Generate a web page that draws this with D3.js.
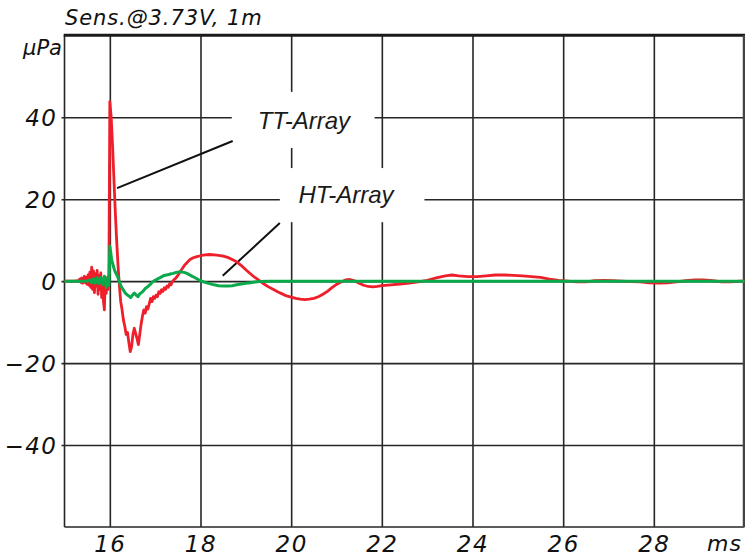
<!DOCTYPE html>
<html>
<head>
<meta charset="utf-8">
<script src="https://cdn.jsdelivr.net/npm/d3@7"></script>
<style>
  html, body { margin: 0; padding: 0; background: #fff; }
  svg { display: block; }
</style>
</head>
<body>
<svg id="chart" width="745" height="558"></svg>
<script>
// ---- data ----
const xTicks = [16, 18, 20, 22, 24, 26, 28];
const yTicks = [-40, -20, 0, 20, 40];

const ttTimes = [15.00,15.20,15.30,15.34,15.36,15.38,15.40,15.42,15.44,15.46,15.48,15.50,15.52,15.54,15.56,15.58,15.60,15.62,15.64,15.66,15.68,15.70,15.72,15.74,15.76,15.78,15.80,15.82,15.84,15.86,15.88,15.90,15.92,15.94,15.96,15.98,
  16.00,16.03,16.06,16.09,16.12,16.15,16.18,16.21,16.24,16.27,16.30,16.33,16.36,16.39,16.42,16.45,16.48,16.51,16.54,16.57,16.60,16.63,16.66,16.69,16.72,16.75,16.78,16.81,16.84,16.87,16.90,16.93,16.96,16.99,17.02,17.05,17.08,17.11,17.14,17.17,17.20,17.23,17.26,17.29,17.32,17.35,17.38,17.42,17.46,17.50,17.55,17.60,17.65,17.70,17.76,17.84,17.92,
  18.00,18.10,18.20,18.30,18.40,18.50,18.60,18.70,18.80,18.90,19.00,19.10,19.20,19.30,19.40,19.50,19.60,19.70,19.80,19.90,20.00,20.10,20.20,20.30,20.40,20.50,20.60,20.70,20.80,20.90,21.00,21.10,21.20,21.30,21.40,21.50,21.60,21.70,21.80,21.90,22.00,22.20,22.40,22.60,22.80,23.00,23.20,23.40,23.55,23.70,23.90,24.10,24.30,24.50,24.70,24.90,25.10,25.30,25.50,25.70,25.90,26.10,26.30,26.50,26.70,26.90,27.10,27.30,27.50,27.70,27.90,28.10,28.30,28.50,28.70,28.90,29.10,29.30,29.50,29.70,29.90,30.00];
const ttValues = [0,0,0.1,0.5,-0.3,0.8,-0.5,0.6,1.2,-0.4,0.9,-0.8,1.5,-1.0,2.2,-1.5,3.4,-2.0,2.5,-2.8,1.8,-1.2,2.6,-3.2,1.4,-2.0,2.0,-4.0,0.5,-5.0,-7.0,1.0,-3.0,0.5,-2.0,2.0,
  43.8,40,33,25,17,10,4,-1,-5,-7,-9.5,-11,-13,-12.5,-15,-17.2,-16,-13,-11.5,-12.8,-14,-15.5,-13,-10.5,-8.5,-7,-7.8,-6.2,-6.8,-5.5,-4.2,-5.0,-3.8,-4.2,-3.4,-3.8,-2.6,-3.0,-2.1,-2.5,-1.6,-2.0,-1.2,-1.5,-0.6,-0.9,-0.1,0.4,0.8,1.4,2.3,3.1,3.9,4.5,5.2,5.7,6.0,
  6.2,6.4,6.5,6.4,6.3,6.1,5.8,5.3,4.7,3.8,2.8,1.8,0.9,0.1,-0.7,-1.4,-2.0,-2.6,-3.1,-3.6,-3.9,-4.2,-4.4,-4.5,-4.4,-4.2,-3.8,-3.2,-2.5,-1.6,-0.8,-0.2,0.3,0.4,0.1,-0.5,-1.0,-1.3,-1.4,-1.3,-1.1,-0.9,-0.7,-0.5,-0.2,0.2,0.8,1.3,1.5,1.3,1.1,1.1,1.3,1.5,1.5,1.4,1.3,1.1,0.9,0.5,0.2,0.0,-0.2,-0.2,0.1,0.2,0.1,0.0,-0.1,-0.2,-0.4,-0.5,-0.4,-0.2,0.1,0.3,0.3,0.1,-0.2,-0.2,0.0,0.0];

const htTimes = [15.00,15.50,15.56,15.60,15.64,15.68,15.72,15.76,15.80,15.84,15.88,15.92,15.96,15.98,
  16.00,16.02,16.04,16.07,16.10,16.14,16.18,16.22,16.26,16.30,16.34,16.38,16.42,16.46,16.50,16.54,16.58,16.62,16.66,16.70,16.74,16.78,16.82,16.86,16.90,16.94,16.98,17.02,17.06,17.10,17.15,17.20,17.25,17.30,17.35,17.40,17.45,17.50,17.55,17.60,17.65,17.70,17.75,17.80,17.85,17.90,17.95,
  18.00,18.10,18.20,18.30,18.40,18.50,18.60,18.70,18.80,18.90,19.00,19.10,19.20,19.30,19.50,20.00,22.00,24.00,26.00,28.00,30.00];
const htValues = [0,0,0.3,-0.4,0.6,-0.5,0.8,-0.6,0.9,-0.8,1.2,-1.5,1.0,-1.0,
  8.5,7.0,5.2,4.0,2.8,1.8,0.9,-0.5,-1.5,-2.2,-2.9,-3.3,-3.6,-4.0,-3.4,-2.9,-3.4,-3.8,-3.1,-2.8,-2.4,-1.8,-1.5,-1.1,-0.7,-0.2,0.1,0.3,0.6,0.8,1.1,1.4,1.5,1.6,1.8,1.9,2.1,2.2,2.3,2.2,2.1,1.9,1.6,1.3,1.0,0.7,0.4,
  0.1,-0.3,-0.6,-0.9,-1.1,-1.2,-1.2,-1.1,-0.9,-0.7,-0.5,-0.4,-0.2,-0.1,0.0,0.0,0.0,0.0,0.0,0.0,0.0];

// annotation label boxes / leader lines in data units
const labelNames = ["TT-Array", "HT-Array"];
const labelAnchor = [[20.28, 37.1], [21.21, 19.1]];
const labelBox = [[18.69, 21.84, 46.2, 32.5], [19.75, 22.94, 27.6, 14.4]];
const leaderLines = [[16.16, 22.7, 18.71, 34.2], [18.49, 1.3, 19.75, 14.2]];

// ---- drawing ----
const svg = d3.select("#chart");
const x = d3.scaleLinear().domain([15, 30]).range([64.5, 744.5]);
const y = d3.scaleLinear().domain([-60, 60]).range([527, 35.3]);
const axisFont = "'DejaVu Sans', sans-serif";
const gridColor = "#262626";

// x axis + vertical grid
const gx = svg.append("g").attr("transform", "translate(0,527)")
  .call(d3.axisBottom(x).tickValues(xTicks).tickSize(-(527 - 35.3)).tickPadding(9).tickFormat(d3.format("d")));
gx.select(".domain").remove();
gx.selectAll(".tick line").attr("stroke", gridColor).attr("stroke-width", 1.6);
gx.selectAll(".tick text").attr("font-family", axisFont).attr("font-style", "italic")
  .attr("font-size", 23).attr("letter-spacing", 1.5).attr("fill", "#111");

// y axis + horizontal grid
const gy = svg.append("g").attr("transform", "translate(64.5,0)")
  .call(d3.axisLeft(y).tickValues(yTicks).tickSize(-(744.5 - 64.5)).tickPadding(7)
    .tickFormat(d => d < 0 ? "\u2212" + Math.abs(d) : String(d)));
gy.select(".domain").remove();
gy.selectAll(".tick line").attr("x1", -3).attr("stroke", gridColor).attr("stroke-width", 1.6);
gy.selectAll(".tick text").attr("font-family", axisFont).attr("font-style", "italic")
  .attr("font-size", 23).attr("letter-spacing", 1.5).attr("fill", "#111").attr("dy", "0.36em");

// frame
svg.append("line").attr("x1", x(15)).attr("x2", x(15)).attr("y1", y(60)).attr("y2", y(-60))
  .attr("stroke", gridColor).attr("stroke-width", 1.6);
svg.append("line").attr("x1", x(15)).attr("x2", x(30)).attr("y1", y(-60)).attr("y2", y(-60))
  .attr("stroke", gridColor).attr("stroke-width", 1.6);
svg.append("line").attr("x1", x(15) - 0.8).attr("x2", x(30) + 1).attr("y1", y(60)).attr("y2", y(60))
  .attr("stroke", "#1a1a1a").attr("stroke-width", 3);
svg.append("line").attr("x1", x(30) - 0.5).attr("x2", x(30) - 0.5).attr("y1", y(60)).attr("y2", y(-60))
  .attr("stroke", "#444").attr("stroke-width", 2.5);

// label boxes (mask grid)
labelBox.forEach(b => {
  svg.append("rect").attr("x", x(b[0])).attr("y", y(b[2]))
    .attr("width", x(b[1]) - x(b[0])).attr("height", y(b[3]) - y(b[2])).attr("fill", "#fff");
});
labelNames.forEach((n, i) => {
  svg.append("text").attr("x", x(labelAnchor[i][0])).attr("y", y(labelAnchor[i][1]))
    .attr("text-anchor", "middle").attr("font-family", "'Liberation Sans', Arial, sans-serif")
    .attr("font-style", "italic").attr("font-size", 24).attr("fill", "#1a1a1a").text(n);
});
leaderLines.forEach(l => {
  svg.append("line").attr("x1", x(l[0])).attr("y1", y(l[1])).attr("x2", x(l[2])).attr("y2", y(l[3]))
    .attr("stroke", "#111").attr("stroke-width", 2);
});

// data lines
const line = d3.line().x(d => x(d[0])).y(d => y(d[1]));
svg.append("path").datum(ttTimes.map((t, i) => [t, ttValues[i]]))
  .attr("d", line).attr("fill", "none").attr("stroke", "#ee1f2b").attr("stroke-width", 2.8)
  .attr("stroke-linejoin", "round");
svg.append("path").datum(htTimes.map((t, i) => [t, htValues[i]]))
  .attr("d", line).attr("fill", "none").attr("stroke", "#0aaa4c").attr("stroke-width", 3)
  .attr("stroke-linejoin", "round");

// titles
svg.append("text").attr("x", 65).attr("y", 25).attr("font-family", axisFont).attr("font-style", "italic")
  .attr("font-size", 21).attr("letter-spacing", 0.9).attr("fill", "#111").text("Sens.@3.73V, 1m");
svg.append("text").attr("x", 62).attr("y", 55).attr("text-anchor", "end").attr("font-family", axisFont)
  .attr("font-style", "italic").attr("font-size", 21).attr("fill", "#111").text("\u03bcPa");
svg.append("text").attr("x", 742).attr("y", 551).attr("text-anchor", "end").attr("font-family", axisFont)
  .attr("font-style", "italic").attr("font-size", 22).attr("letter-spacing", 1).attr("fill", "#111").text("ms");
</script>
</body>
</html>
